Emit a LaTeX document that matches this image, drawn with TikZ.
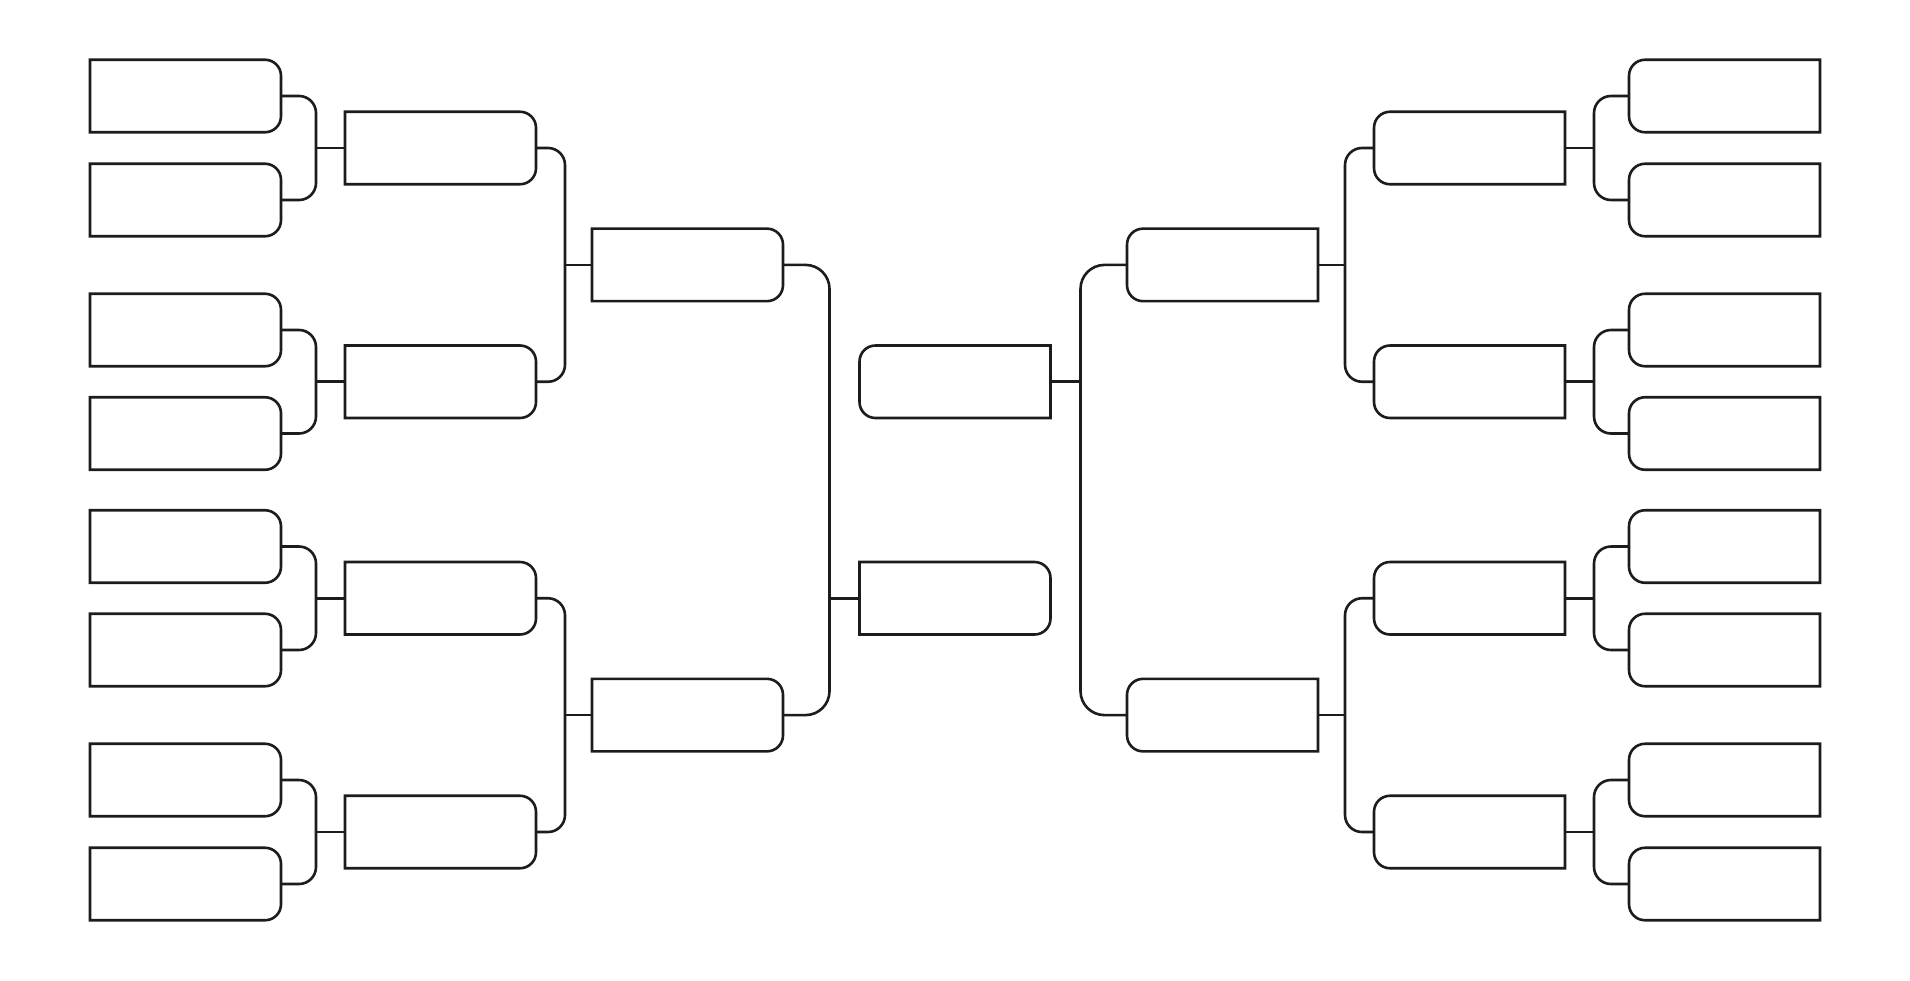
\documentclass[tikz,border=0pt]{standalone}
\definecolor{lc}{RGB}{28,28,28}
\def\rr{16pt}
\newcommand\BoxRR[1]{\draw[ln] (#1.north west) -- ([xshift=-\rr]#1.north east) arc[start angle=90,end angle=0,radius=\rr] -- ([yshift=\rr]#1.south east) arc[start angle=0,end angle=-90,radius=\rr] -- (#1.south west) -- cycle;}
\newcommand\BoxLR[1]{\draw[ln] (#1.north east) -- ([xshift=\rr]#1.north west) arc[start angle=90,end angle=180,radius=\rr] -- ([yshift=\rr]#1.south west) arc[start angle=180,end angle=270,radius=\rr] -- (#1.south east) -- cycle;}
\begin{document}
\begin{tikzpicture}[x=1pt,y=-1pt,
  ln/.style={draw=lc,line width=2.6pt},
  slot/.style={draw=none,inner sep=0pt,outer sep=0pt,minimum width=191pt,minimum height=72.5pt},
  conn/.style={ln,rounded corners=17pt},
  connb/.style={ln,rounded corners=24pt}]
\fill[white] (0,0) rectangle (1910,980);
\useasboundingbox (0,0) rectangle (1910,980);
% left round 1
\node[slot] (la1) at (185.5,96) {};
\node[slot] (la2) at (185.5,200) {};
\node[slot] (la3) at (185.5,330) {};
\node[slot] (la4) at (185.5,433.5) {};
\node[slot] (la5) at (185.5,546.5) {};
\node[slot] (la6) at (185.5,650) {};
\node[slot] (la7) at (185.5,780) {};
\node[slot] (la8) at (185.5,884) {};
% left round 2
\node[slot] (lb1) at (440.5,148) {};
\node[slot] (lb2) at (440.5,381.75) {};
\node[slot] (lb3) at (440.5,598.25) {};
\node[slot] (lb4) at (440.5,832) {};
% left round 3
\node[slot] (lc1) at (687.5,264.9) {};
\node[slot] (lc2) at (687.5,715.1) {};
% centre
\node[slot] (ct) at (955,381.75) {};
\node[slot] (cb) at (955,598.25) {};
% right round 3
\node[slot] (rc1) at (1222.5,264.9) {};
\node[slot] (rc2) at (1222.5,715.1) {};
% right round 2
\node[slot] (rb1) at (1469.5,148) {};
\node[slot] (rb2) at (1469.5,381.75) {};
\node[slot] (rb3) at (1469.5,598.25) {};
\node[slot] (rb4) at (1469.5,832) {};
% right round 1
\node[slot] (ra1) at (1724.5,96) {};
\node[slot] (ra2) at (1724.5,200) {};
\node[slot] (ra3) at (1724.5,330) {};
\node[slot] (ra4) at (1724.5,433.5) {};
\node[slot] (ra5) at (1724.5,546.5) {};
\node[slot] (ra6) at (1724.5,650) {};
\node[slot] (ra7) at (1724.5,780) {};
\node[slot] (ra8) at (1724.5,884) {};
% box outlines
\foreach \n in {la1,la2,la3,la4,la5,la6,la7,la8,lb1,lb2,lb3,lb4,lc1,lc2,cb}{\BoxRR{\n}}
\foreach \n in {ra1,ra2,ra3,ra4,ra5,ra6,ra7,ra8,rb1,rb2,rb3,rb4,rc1,rc2,ct}{\BoxLR{\n}}
% junction points
\coordinate (jl1) at (316,148);
\coordinate (jl2) at (316,381.75);
\coordinate (jl3) at (316,598.25);
\coordinate (jl4) at (316,832);
\coordinate (jm1) at (565,264.9);
\coordinate (jm2) at (565,715.1);
\coordinate (jc) at (829.5,598.25);
\coordinate (jr1) at (1594,148);
\coordinate (jr2) at (1594,381.75);
\coordinate (jr3) at (1594,598.25);
\coordinate (jr4) at (1594,832);
\coordinate (jn1) at (1345,264.9);
\coordinate (jn2) at (1345,715.1);
\coordinate (jd) at (1080.5,381.75);
% left connectors
\draw[conn] (la1.east) -| (jl1) |- (la2.east); \draw[ln] (jl1) -- (lb1.west);
\draw[conn] (la3.east) -| (jl2) |- (la4.east); \draw[ln] (jl2) -- (lb2.west);
\draw[conn] (la5.east) -| (jl3) |- (la6.east); \draw[ln] (jl3) -- (lb3.west);
\draw[conn] (la7.east) -| (jl4) |- (la8.east); \draw[ln] (jl4) -- (lb4.west);
\draw[conn] (lb1.east) -| (jm1) |- (lb2.east); \draw[ln] (jm1) -- (lc1.west);
\draw[conn] (lb3.east) -| (jm2) |- (lb4.east); \draw[ln] (jm2) -- (lc2.west);
\draw[connb] (lc1.east) -| (jc) |- (lc2.east); \draw[ln] (jc) -- (cb.west);
% right connectors
\draw[conn] (ra1.west) -| (jr1) |- (ra2.west); \draw[ln] (jr1) -- (rb1.east);
\draw[conn] (ra3.west) -| (jr2) |- (ra4.west); \draw[ln] (jr2) -- (rb2.east);
\draw[conn] (ra5.west) -| (jr3) |- (ra6.west); \draw[ln] (jr3) -- (rb3.east);
\draw[conn] (ra7.west) -| (jr4) |- (ra8.west); \draw[ln] (jr4) -- (rb4.east);
\draw[conn] (rb1.west) -| (jn1) |- (rb2.west); \draw[ln] (jn1) -- (rc1.east);
\draw[conn] (rb3.west) -| (jn2) |- (rb4.west); \draw[ln] (jn2) -- (rc2.east);
\draw[connb] (rc1.west) -| (jd) |- (rc2.west); \draw[ln] (jd) -- (ct.east);
\end{tikzpicture}
\end{document}
